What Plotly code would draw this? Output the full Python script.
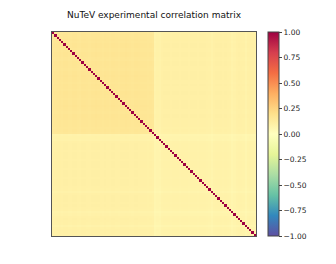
import numpy as np
import plotly.graph_objects as go

# Per-point correlated-systematic loadings (NuTeV nu: 45 points, nubar: 45 points)
common_loadings = [0.25, 0.26, 0.26, 0.27, 0.26, 0.27, 0.27, 0.26, 0.26, 0.27,
                   0.27, 0.26, 0.26, 0.27, 0.27, 0.26, 0.26, 0.27, 0.27, 0.27,
                   0.27, 0.26, 0.26, 0.27, 0.26, 0.26, 0.27, 0.27, 0.26, 0.26,
                   0.27, 0.27, 0.27, 0.27, 0.26, 0.26, 0.27, 0.27, 0.26, 0.26,
                   0.26, 0.26, 0.25, 0.26, 0.25,
                   0.21, 0.23, 0.22, 0.27, 0.28, 0.28, 0.28, 0.27, 0.28, 0.28,
                   0.28, 0.27, 0.28, 0.28, 0.28, 0.27, 0.28, 0.28, 0.28, 0.27,
                   0.28, 0.28, 0.28, 0.27, 0.26, 0.22, 0.27, 0.28, 0.28, 0.28,
                   0.27, 0.28, 0.27, 0.26, 0.21, 0.24, 0.27, 0.28, 0.27, 0.26,
                   0.21, 0.26, 0.27, 0.26, 0.25]
nu_loadings = [0.28, 0.29, 0.30, 0.30, 0.30, 0.31, 0.31, 0.30, 0.30, 0.31,
               0.31, 0.30, 0.29, 0.31, 0.31, 0.31, 0.30, 0.31, 0.31, 0.32,
               0.31, 0.31, 0.30, 0.31, 0.31, 0.30, 0.31, 0.31, 0.31, 0.30,
               0.31, 0.31, 0.32, 0.31, 0.31, 0.30, 0.31, 0.31, 0.31, 0.30,
               0.30, 0.30, 0.29, 0.29, 0.28]
nubar_loadings = [0.08] * 45
colorbar_ticks = [1.0, 0.75, 0.5, 0.25, 0.0, -0.25, -0.5, -0.75, -1.0]

c = np.array(common_loadings)
b = np.array(nu_loadings + nubar_loadings)
corr = np.outer(c, c) + np.outer(b, b)
np.fill_diagonal(corr, 1.0)
n = len(c)

spectral_r = ['rgb(94,79,162)', 'rgb(50,136,189)', 'rgb(102,194,165)', 'rgb(171,221,164)',
              'rgb(230,245,152)', 'rgb(255,255,191)', 'rgb(254,224,139)', 'rgb(253,174,97)',
              'rgb(244,109,67)', 'rgb(213,62,79)', 'rgb(158,1,66)']
cs = [[i / (len(spectral_r) - 1), col] for i, col in enumerate(spectral_r)]

def fmt(v):
    return f"{v:.2f}".replace("-", "\u2212")

fig = go.Figure(go.Heatmap(
    z=corr, x=list(range(n)), y=list(range(n)),
    colorscale=cs, zmin=-1, zmax=1,
    colorbar=dict(
        x=1.059, xanchor='left', y=0.5, yanchor='middle', len=1, lenmode='fraction',
        ypad=0, xpad=0,
        thickness=11, outlinewidth=1, outlinecolor='#444',
        tickvals=colorbar_ticks, ticktext=[fmt(v) for v in colorbar_ticks],
        ticks='outside', ticklen=3, tickcolor='#444',
        tickfont=dict(family='DejaVu Sans', size=7.5, color='#222'),
    ),
))

# page body has an 8px margin, so margins are offset to place the plot at 52..256 x 32..236
fig.update_layout(
    width=336, height=264,
    margin=dict(l=44, r=88, t=24, b=36),
    paper_bgcolor='white', plot_bgcolor='white',
    title=dict(text='NuTeV experimental correlation matrix', x=(154 - 8) / 336, xanchor='center',
               y=1 - (15 - 8) / 264, yanchor='middle',
               font=dict(family='DejaVu Sans', size=9, color='#111')),
    font=dict(family='DejaVu Sans'),
)
fig.update_xaxes(showticklabels=False, ticks='', showgrid=False, zeroline=False,
                 showline=True, mirror=True, linecolor='#555', linewidth=1,
                 range=[-0.5, n - 0.5])
fig.update_yaxes(showticklabels=False, ticks='', showgrid=False, zeroline=False,
                 showline=True, mirror=True, linecolor='#555', linewidth=1,
                 range=[n - 0.5, -0.5])

fig.write_html("out.html")
